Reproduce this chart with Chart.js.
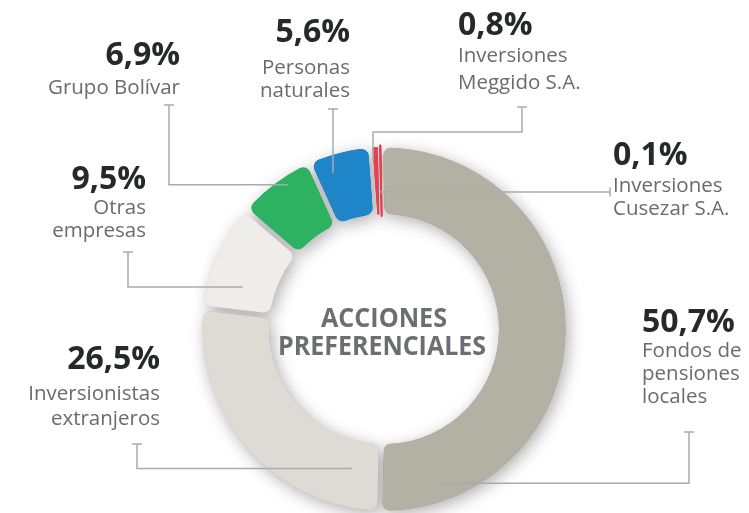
<!DOCTYPE html>
<html>
<head>
<meta charset="utf-8">
<script src="https://cdn.jsdelivr.net/npm/chart.js@4.4.1/dist/chart.umd.min.js"></script>
<style>
html,body{margin:0;padding:0;background:#ffffff;}
#wrap{width:749px;height:513px;}
</style>
</head>
<body>
<div id="wrap"><canvas id="c" width="749" height="513"></canvas></div>
<script>
// ---- DATA ----
const categories = ["Fondos de pensiones locales","Inversionistas extranjeros","Otras empresas","Grupo Bolívar","Personas naturales","Inversiones Meggido S.A.","Inversiones Cusezar S.A."];
const labelLines = [["Fondos de","pensiones","locales"],["Inversionistas","extranjeros"],["Otras","empresas"],["Grupo Bolívar"],["Personas","naturales"],["Inversiones","Meggido S.A."],["Inversiones","Cusezar S.A."]];
const shares = [50.7, 26.5, 9.5, 6.9, 5.6, 0.8, 0.1];
const colors = ["#b3b0a4","#dedbd5","#eeedeb","#2cb260","#1e86c9","#e8404f","#e8404f"];
const centerTitle = ["ACCIONES","PREFERENCIALES"];

// ---- LAYOUT (label placement & leader routing) ----
const labelLayout = [
  {align:'left',  x:642, num:332, lines:[357,380,403], tick:[689,432], route:'vh',  f:0.888, rf:0.71},
  {align:'right', x:160, num:369, lines:[400,425],     tick:[137,444], route:'vh',  f:0.122, rf:0.43},
  {align:'right', x:146, num:189, lines:[214,237],     tick:[128,252], route:'vh',  f:0.291, rf:0.49},
  {align:'right', x:180, num:65,  lines:[94],          tick:[169,105], route:'vh',  f:0.624, rf:0.85},
  {align:'right', x:350, num:42,  lines:[74,97],       tick:[333,109], route:'vh',  f:0.326, rf:0.73},
  {align:'left',  x:458, num:35,  lines:[62,89],       tick:[522,107], route:'vhv', elbow:132, f:0.18, rf:0.79},
  {align:'left',  x:613, num:165, lines:[192,215],     tick:[610,192], route:'hv',  f:0.5, rf:0.36}
];

function fmt(v){ return v.toFixed(1).replace('.', ',') + '%'; }

// White borders become transparent gaps; then a soft shadow is laid behind the ring.
const gapShadowPlugin = {
  id:'gapShadow',
  beforeDatasetsDraw(chart){
    const c = chart.ctx;
    const orig = CanvasRenderingContext2D.prototype.stroke;
    c.stroke = function(...args){
      if (this.strokeStyle === '#ffffff') {
        this.save();
        this.globalCompositeOperation = 'destination-out';
        orig.apply(this, args);
        this.restore();
      } else {
        orig.apply(this, args);
      }
    };
  },
  afterDatasetsDraw(chart){
    const c = chart.ctx;
    delete c.stroke;
    const cv = chart.canvas;
    const copy = document.createElement('canvas');
    copy.width = cv.width; copy.height = cv.height;
    copy.getContext('2d').drawImage(cv, 0, 0);
    c.save();
    c.setTransform(1,0,0,1,0,0);
    c.globalCompositeOperation = 'destination-over';
    c.shadowColor = 'rgba(0,0,0,0.32)';
    c.shadowBlur = 16;
    c.shadowOffsetX = 3;
    c.shadowOffsetY = 4;
    c.drawImage(copy, 0, 0);
    c.restore();
  }
};

const calloutPlugin = {
  id:'callouts',
  afterDraw(chart){
    const ctx = chart.ctx;
    const meta = chart.getDatasetMeta(0);
    ctx.save();
    const cx = meta.data[0].x, cy = meta.data[0].y;
    // center title
    ctx.fillStyle = '#6d6e71';
    ctx.font = "700 27px 'Open Sans'";
    ctx.textAlign = 'center';
    ctx.textBaseline = 'alphabetic';
    ctx.fillText(centerTitle[0], cx, cy - 2, 126);
    ctx.fillText(centerTitle[1], cx - 2, cy + 26, 208);

    // leader lines
    ctx.strokeStyle = '#a8aaad';
    ctx.lineWidth = 1.5;
    meta.data.forEach((arc, i) => {
      const L = labelLayout[i];
      const p = arc.getProps(['x','y','startAngle','endAngle','innerRadius','outerRadius'], true);
      const a = p.startAngle + L.f * (p.endAngle - p.startAngle);
      const r = p.innerRadius + L.rf * (p.outerRadius - p.innerRadius);
      const ax = p.x + r * Math.cos(a), ay = p.y + r * Math.sin(a);
      const [tx, ty] = L.tick;
      ctx.beginPath();
      ctx.moveTo(tx, ty);
      if (L.route === 'vh') {
        ctx.lineTo(tx, ay); ctx.lineTo(ax, ay);
      } else if (L.route === 'vhv') {
        ctx.lineTo(tx, L.elbow); ctx.lineTo(ax, L.elbow); ctx.lineTo(ax, ay);
      } else {
        ctx.lineTo(ax, ty); ctx.lineTo(ax, ay);
      }
      ctx.stroke();
      ctx.beginPath();
      if (L.route === 'hv') { ctx.moveTo(tx, ty - 4.5); ctx.lineTo(tx, ty + 4.5); }
      else { ctx.moveTo(tx - 5, ty); ctx.lineTo(tx + 5, ty); }
      ctx.stroke();
    });

    // labels
    meta.data.forEach((arc, i) => {
      const L = labelLayout[i];
      ctx.textAlign = L.align;
      ctx.fillStyle = '#27282a';
      ctx.font = "700 32px 'Open Sans'";
      ctx.fillText(fmt(shares[i]), L.x, L.num);
      ctx.fillStyle = '#6a6b6e';
      ctx.font = "400 20.5px 'Open Sans'";
      labelLines[i].forEach((t, k) => ctx.fillText(t, L.x, L.lines[k]));
    });
    ctx.restore();
  }
};

new Chart(document.getElementById('c'), {
  type: 'doughnut',
  data: {
    labels: categories,
    datasets: [{
      data: shares,
      backgroundColor: colors,
      borderColor: ['#ffffff','#ffffff','#ffffff','#ffffff','#ffffff','#ffffff', colors[6]],
      borderWidth: [5,5,5,5,5,4,1],
      borderRadius: [10,10,10,10,10,0,0],
      borderJoinStyle: 'round',
      hoverOffset: 0
    }]
  },
  options: {
    responsive: false,
    animation: false,
    events: [],
    radius: 184,
    cutout: 111,
    rotation: -1,
    layout: { padding: { left: 19, right: 0, top: 145, bottom: 0 } },
    plugins: { legend: { display: false }, tooltip: { enabled: false } }
  },
  plugins: [gapShadowPlugin, calloutPlugin]
});
</script>
</body>
</html>
